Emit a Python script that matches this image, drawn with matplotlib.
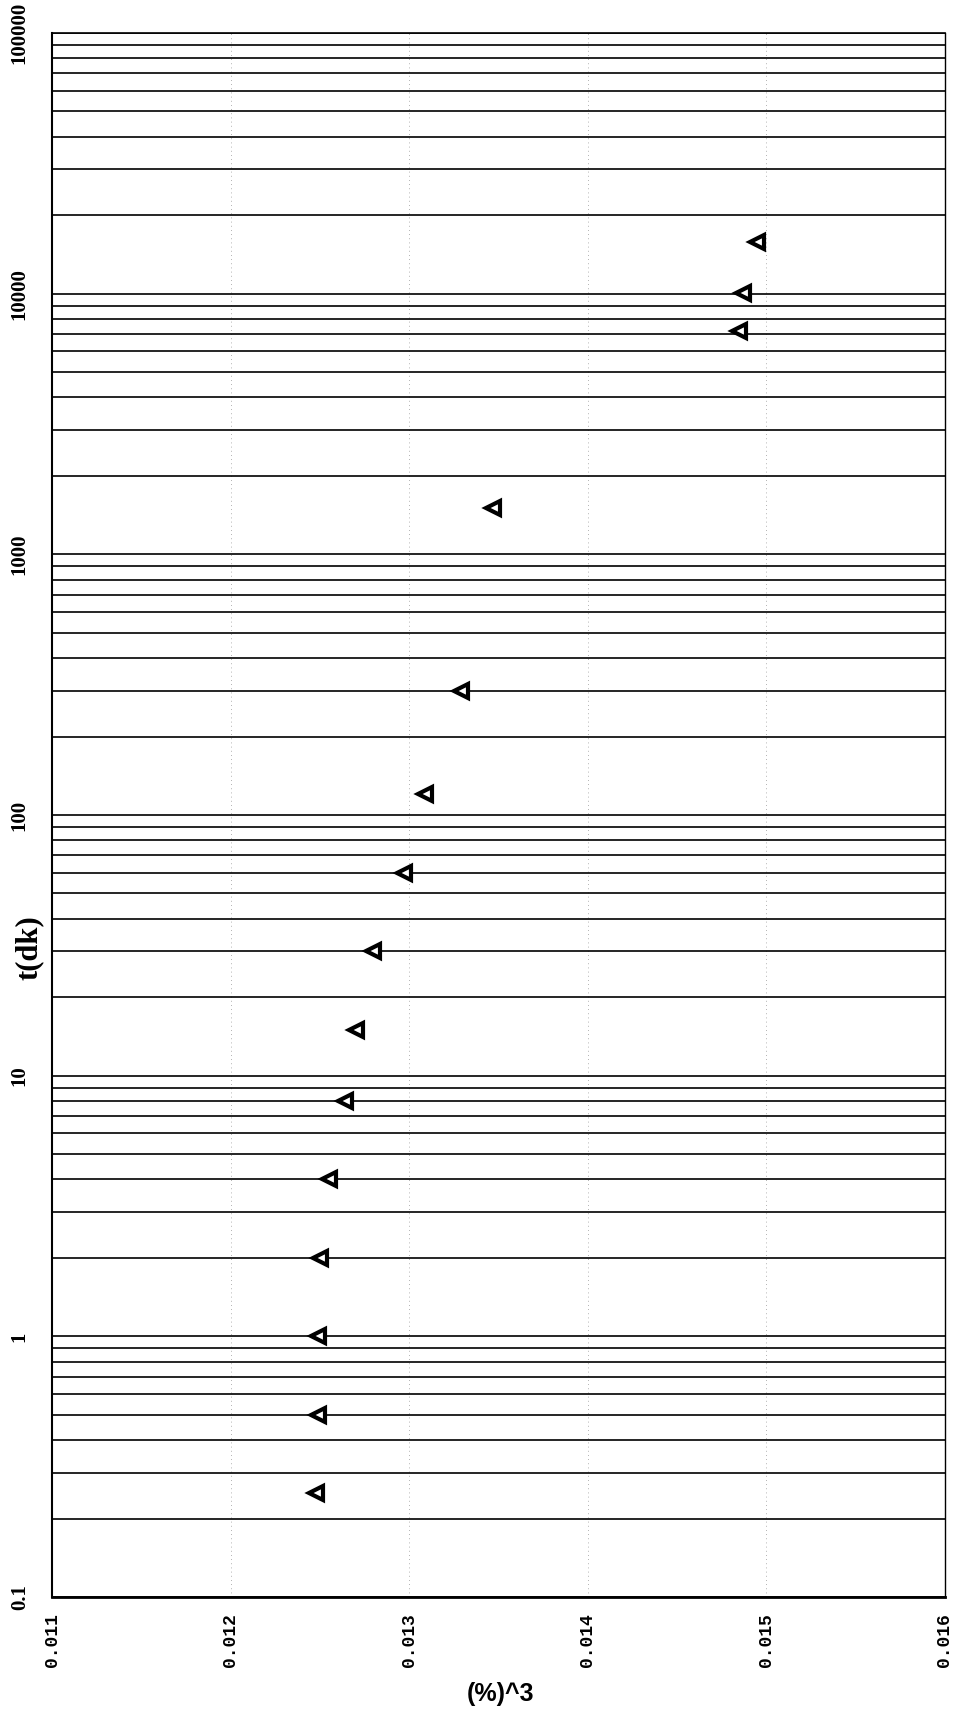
import numpy as np
import matplotlib
matplotlib.use("Agg")
import matplotlib.pyplot as plt
from matplotlib.ticker import LogLocator, FixedLocator, FuncFormatter, NullFormatter

# time (dk) and strain readings
t_dk = [0.25, 0.5, 1, 2, 4, 8, 15, 30, 60, 120, 300, 1500, 7200, 10080, 15840]
strain = [0.01248, 0.01249, 0.01249, 0.01250, 0.01255, 0.01264, 0.01270, 0.01280,
          0.01297, 0.01309, 0.01329, 0.01347, 0.01485, 0.01487, 0.01495]

x_ticks = [0.011, 0.012, 0.013, 0.014, 0.015, 0.016]
y_ticks = [0.1, 1, 10, 100, 1000, 10000, 100000]

fig = plt.figure(figsize=(9.58, 17.25), dpi=100)
ax = fig.add_axes([0.0543, 0.0742, 0.9318, 0.9067])

ax.set_yscale("log")
ax.set_xlim(0.011, 0.016)
ax.set_ylim(0.1, 100000)

ax.yaxis.set_major_locator(FixedLocator(y_ticks))
ax.yaxis.set_minor_locator(LogLocator(base=10, subs=np.arange(2, 10)))
ax.yaxis.set_minor_formatter(NullFormatter())
ax.yaxis.set_major_formatter(FuncFormatter(lambda v, p: "%g" % v))
ax.xaxis.set_major_locator(FixedLocator(x_ticks))
ax.xaxis.set_major_formatter(FuncFormatter(lambda v, p: "%.3f" % v))

# horizontal grid at every decade step, faint vertical dotted lines
ax.yaxis.grid(True, which="both", color="black", lw=1.2)
ax.xaxis.grid(True, which="major", color="#999999", lw=0.6, ls=(0, (1, 4)))
ax.set_axisbelow(True)

ax.plot(strain, t_dk, ls="none", marker="<", ms=10, mew=3,
        mfc="white", mec="black", zorder=5)

ax.tick_params(axis="both", which="both", length=0)
ax.tick_params(axis="y", pad=16)
ax.tick_params(axis="x", pad=12)
for lab in ax.get_yticklabels():
    lab.set_rotation(90)
    lab.set_va("center")
    lab.set_fontfamily("Liberation Serif")
    lab.set_fontweight("bold")
    lab.set_fontsize(15)
for lab in ax.get_xticklabels():
    lab.set_rotation(90)
    lab.set_fontfamily("Liberation Mono")
    lab.set_fontweight("bold")
    lab.set_fontsize(13)

for s in ["left", "bottom", "top"]:
    ax.spines[s].set_color("black")
ax.spines["left"].set_linewidth(1.5)
ax.spines["bottom"].set_linewidth(2)
ax.spines["top"].set_linewidth(1.2)
ax.spines["right"].set_linewidth(1.0)
ax.spines["right"].set_linestyle((0, (4, 1)))

fig.text(0.031, 1 - 948 / 1725, "t(dk)", rotation=90, ha="center", va="center",
         fontfamily="Liberation Serif", fontweight="bold", fontsize=22)
fig.text(500 / 958, 1 - 1694 / 1725, "(%)^3", ha="center", va="center",
         fontfamily="Liberation Sans", fontweight="bold", fontsize=18)

fig.savefig("out.png", dpi=100)
